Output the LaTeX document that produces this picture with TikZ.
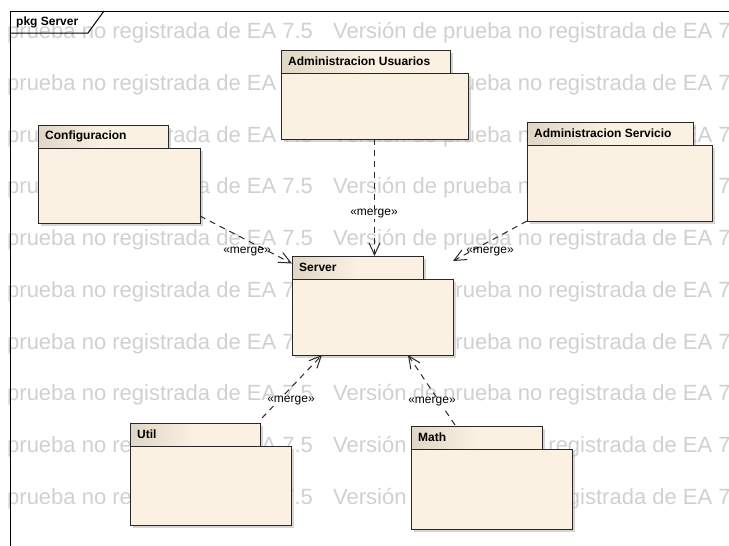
\documentclass[tikz,border=0pt]{standalone}
\usepackage{fontspec}
\setmainfont{Liberation Sans}
\usetikzlibrary{arrows.meta,shadows}

\definecolor{pkgbodyfill}{RGB}{251,241,226}
\definecolor{pkgtabdark}{RGB}{224,214,198}
\definecolor{pkgline}{RGB}{40,40,40}
\definecolor{pkgshadow}{RGB}{172,172,172}
\definecolor{wmgray}{RGB}{208,208,208}

\tikzset{
  pkgpart/.style={draw=pkgline, line width=1pt, anchor=north west,
    inner sep=0pt, outer sep=0pt,
    drop shadow={shadow xshift=3pt, shadow yshift=-3pt, fill=pkgshadow}},
  pkgtab/.style={pkgpart, left color=pkgtabdark, right color=pkgbodyfill,
    middle color=pkgbodyfill},
  pkgbody/.style={pkgpart, fill=pkgbodyfill},
  tablabel/.style={anchor=west, inner sep=0pt,
    font=\fontsize{12}{14}\selectfont\bfseries},
  watermark/.style={anchor=base west, inner sep=0pt, text=wmgray,
    font=\fontsize{22}{24}\selectfont},
  frameline/.style={draw=black, line width=1pt},
  mergeline/.style={draw=pkgline, line width=1pt, dash pattern=on 6pt off 5pt,
    -{Straight Barb[length=12pt,width=11pt]}},
  mergelbl/.style={inner sep=1pt, font=\fontsize{12}{14}\selectfont}
}

% #1 name, #2/#3 top-left corner, #4/#5 tab size, #6/#7 body size, #8 title
\newcommand\umlpackage[8]{%
  \node[pkgtab, minimum width=#4pt, minimum height=#5pt] (#1tab) at (#2,#3) {};
  \node[pkgbody, minimum width=#6pt, minimum height=#7pt] (#1body) at (#1tab.south west) {};
  \node[tablabel] (#1lbl) at ([xshift=7pt]#1tab.west) {#8};
}

\begin{document}
\begin{tikzpicture}[x=1pt,y=-1pt]
\useasboundingbox (0,0) rectangle (729,546);
\clip (0,0) rectangle (729,546);

% evaluation watermark rows
\foreach \k in {0,...,9} {
  \node[watermark] (wma\k) at (7, {38.5+51.75*\k}) {prueba no registrada de EA 7.5};
  \node[watermark] (wmb\k) at (333, {38.5+51.75*\k}) {Versión de prueba no registrada de EA 7.5};
}

% diagram frame with its name tab
\draw[frameline] (10,546) -- (10,11) -- (729,11);
\draw[frameline] (10,33) -- (88,33) -- (104,11);
\node[tablabel] (framelbl) at (16,22.5) {pkg Server};

% packages
\umlpackage{usr}{281}{50}{169}{23}{187}{66}{Administracion Usuarios}
\umlpackage{cfg}{38}{125}{130}{23}{162}{75}{Configuracion}
\umlpackage{svc}{527}{122}{166}{23}{185}{76}{Administracion Servicio}
\umlpackage{srv}{292}{256}{131}{23}{161}{76}{Server}
\umlpackage{util}{130}{423}{130}{23}{161}{79}{Util}
\umlpackage{math}{411}{426}{131}{23}{161}{80}{Math}

% merge dependencies
\draw[mergeline] ([yshift=7pt]cfgbody.south east) -- ([yshift=4pt]srvtab.west);
\draw[mergeline] (usrbody.south) -- (usrbody.south |- srvtab.north);
\draw[mergeline] (svcbody.south west) -- ([yshift=18pt]srvbody.north east);
\draw[mergeline] ([xshift=2pt,yshift=5pt]utiltab.north east) -- ([xshift=30pt]srvbody.south west);
\draw[mergeline] ([xshift=44pt,yshift=1pt]mathtab.north west) -- ([xshift=-45pt]srvbody.south east);

\node[mergelbl] (m1) at (247,252) {«merge»};
\node[mergelbl, fill=white] (m2) at (374,214) {«merge»};
\node[mergelbl] (m3) at (490,252) {«merge»};
\node[mergelbl, fill=white] (m4) at (291,401) {«merge»};
\node[mergelbl, fill=white] (m5) at (432,402) {«merge»};
\end{tikzpicture}
\end{document}
